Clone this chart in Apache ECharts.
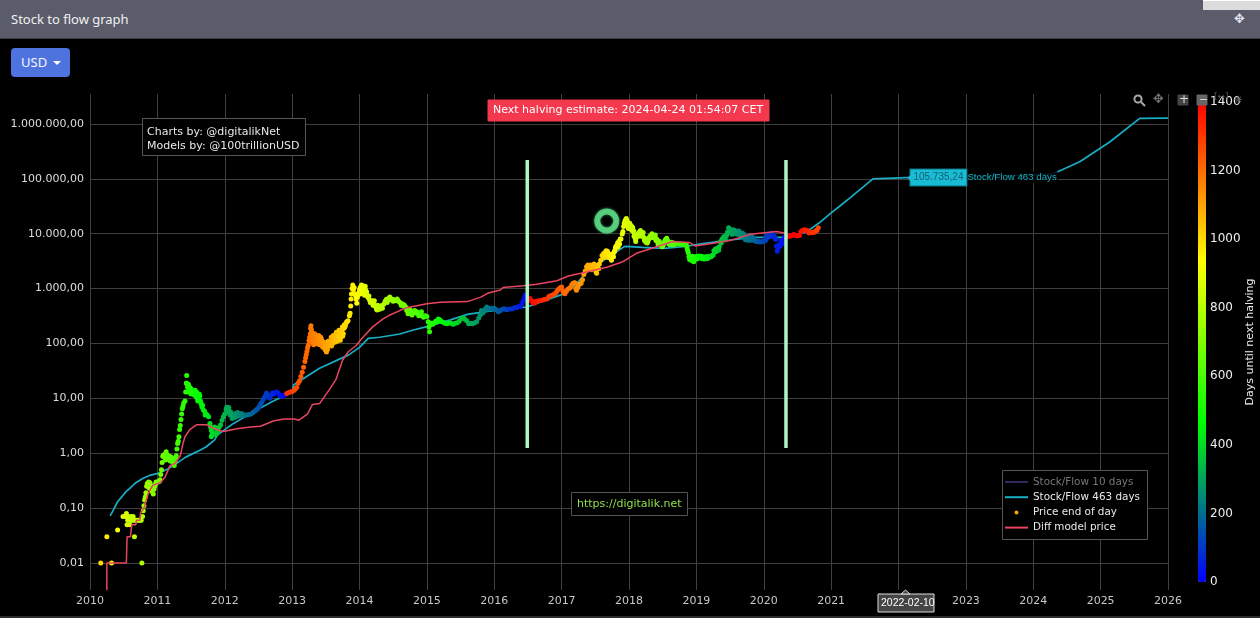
<!DOCTYPE html>
<html><head><meta charset="utf-8"><title>Stock to flow graph</title>
<script src="https://cdn.jsdelivr.net/npm/echarts@6/dist/echarts.min.js"></script>
<style>
html,body{margin:0;padding:0;background:#000;width:1260px;height:618px;overflow:hidden}
#chart{position:absolute;left:0;top:0;width:1260px;height:618px}
#head{position:absolute;left:0;top:0;width:1260px;height:38px;background:#5a5c69;border-bottom:1px solid #3d3e47;color:#f1f1f4;font:13px "Noto Sans",sans-serif;line-height:38px;text-indent:11px;z-index:5}
#move{position:absolute;left:1234px;top:0;text-indent:0;font:13px "DejaVu Sans";line-height:38px;color:#e4e6f5}
#patch{position:absolute;left:1203px;top:0;width:57px;height:10px;background:#dcdcdc;border-top:1px solid #fff;box-sizing:border-box;z-index:6}
#btn{position:absolute;left:11px;top:48px;width:59px;height:29px;background:#4e73df;border-radius:4px;color:#f4f6ff;font:13px "Noto Sans",sans-serif;line-height:29px;text-indent:10px;z-index:5}
#btn i{position:absolute;left:42px;top:13px;border-top:4px solid #fff;border-left:4px solid transparent;border-right:4px solid transparent}
#foot{position:absolute;left:0;top:616px;width:1260px;height:2px;background:#2e2e2e;z-index:5}
</style></head><body>
<div id="chart"></div>
<div id="head">Stock to flow graph<span id="move">✥</span></div><div id="patch"></div>
<div id="btn">USD<i></i></div><div id="foot"></div>
<script>
const yearTicks=[2010,2026];
const halvings=[2012.91,2016.52,2020.36,2024.31];
const halvingMarks=[2016.49,2020.33];
const markLow=1.24, markHigh=221000;
const circleNote=[2017.67,17070];
const hoverPoint=[2022.11,105735.24];

const stockFlow463=[[2010.3,.072],[2010.35,.094],[2010.41,.131],[2010.47,.16],[2010.53,.197],[2010.59,.23],[2010.68,.29],[2010.79,.35],[2010.9,.40],[2011.04,.44],[2011.16,.52],[2011.29,.66],[2011.42,.85],[2011.59,1.07],[2011.72,1.3],[2011.79,1.52],[2011.85,1.75],[2011.89,2.15],[2012.0,2.7],[2012.13,3.5],[2012.3,4.6],[2012.48,6.2],[2012.7,8.7],[2012.94,12],[2013.01,14],[2013.02,17.5],[2013.4,35],[2013.84,62],[2014.0,85],[2014.13,124],[2014.3,130],[2014.6,149],[2014.8,176],[2015.0,203],[2015.35,269],[2015.6,339],[2015.9,385],[2016.3,440],[2016.49,462],[2016.6,520],[2017.04,810],[2017.2,1150],[2017.38,2040],[2017.63,3310],[2017.93,5820],[2017.96,5900],[2018.2,5650],[2018.52,5430],[2018.8,5800],[2019.12,6700],[2019.5,7700],[2019.84,8600],[2020.3,8600],[2020.36,8900],[2020.63,10700],[2020.83,16000],[2021.0,24000],[2021.13,32000],[2021.28,45000],[2021.62,100000],[2022.11,105735.24],[2023.0,110000],[2023.8,116000],[2024.29,123000],[2024.69,205000],[2025.14,475000],[2025.58,1270000],[2026,1275000]];

const diffModel=[[2010.25,.0032],[2010.25,.01],[2010.54,.01],[2010.55,.03],[2010.6,.03],[2010.62,.05],[2010.68,.05],[2010.69,.06],[2010.74,.06],[2010.75,.08],[2010.81,.107],[2010.86,.18],[2010.93,.26],[2011.04,.29],[2011.11,.36],[2011.19,.6],[2011.26,.65],[2011.34,.9],[2011.38,1.5],[2011.41,2],[2011.48,2.7],[2011.58,3.3],[2011.73,3.3],[2011.88,2.7],[2011.98,2.5],[2012.18,2.8],[2012.38,3],[2012.53,3.1],[2012.73,3.9],[2012.88,4.2],[2013.03,4.2],[2013.1,4],[2013.23,5.2],[2013.3,7.7],[2013.41,8.1],[2013.55,14.3],[2013.65,22],[2013.75,50],[2013.83,70],[2013.95,92],[2014.05,130],[2014.2,203],[2014.35,280],[2014.45,330],[2014.7,450],[2015.0,530],[2015.2,565],[2015.6,580],[2015.8,700],[2015.9,820],[2016.09,945],[2016.13,1050],[2016.43,1130],[2016.63,1200],[2016.93,1390],[2017.1,1700],[2017.37,2000],[2017.67,2450],[2017.91,3090],[2018.11,4400],[2018.41,5800],[2018.65,7200],[2018.9,6900],[2018.98,6000],[2019.25,6700],[2019.5,7500],[2019.8,9800],[2020.19,11000],[2020.32,10200]];

const price2010=[[2010.16,.01],[2010.25,.03],[2010.32,.01],[2010.41,.04],[2010.49,.07],[2010.53,.07],[2010.54,.08],[2010.55,.05],[2010.56,.06],[2010.57,.07],[2010.58,.06],[2010.59,.05],[2010.6,.06],[2010.61,.07],[2010.62,.06],[2010.63,.065],[2010.64,.07],[2010.65,.06],[2010.66,.03],[2010.67,.06],[2010.69,.06],[2010.71,.06],[2010.73,.06],[2010.75,.06],[2010.76,.06],[2010.77,.01],[2010.78,.07],[2010.79,.09],[2010.8,.11],[2010.81,.14],[2010.82,.16],[2010.83,.19],[2010.84,.25],[2010.85,.28],[2010.86,.26],[2010.87,.3],[2010.88,.23],[2010.89,.29],[2010.9,.26],[2010.91,.22],[2010.92,.2],[2010.93,.24],[2010.94,.18],[2010.95,.22],[2010.96,.25],[2010.97,.27],[2010.98,.3]];
const price2011=[[2011.0,.3],[2011.01,.3],[2011.03,.31],[2011.04,.33],[2011.05,.41],[2011.06,.5],[2011.07,.68],[2011.08,.88],[2011.09,.93],[2011.1,.85],[2011.11,.95],[2011.12,.9],[2011.13,1.07],[2011.14,.95],[2011.16,.9],[2011.18,.88],[2011.2,.85],[2011.22,.82],[2011.24,.75],[2011.25,.6],[2011.26,.7],[2011.27,.8],[2011.28,.9],[2011.29,1.2],[2011.3,1.5],[2011.31,1.65],[2011.32,2],[2011.33,2.7],[2011.34,3.2],[2011.35,4.1],[2011.36,5.2],[2011.37,6.5],[2011.38,7.2],[2011.39,8.2],[2011.41,9],[2011.42,13],[2011.43,19],[2011.435,26],[2011.44,18],[2011.45,16],[2011.46,18],[2011.47,15],[2011.48,16],[2011.49,14],[2011.5,15],[2011.51,14],[2011.52,13.5],[2011.53,13],[2011.54,13.5],[2011.56,14],[2011.58,13],[2011.59,10],[2011.6,9],[2011.62,12],[2011.63,11],[2011.64,9],[2011.65,8],[2011.66,7],[2011.68,6.2],[2011.7,5.8],[2011.72,5.2],[2011.74,5],[2011.76,4.6],[2011.78,3.5],[2011.79,3],[2011.8,2.6],[2011.81,2.2],[2011.83,2.9],[2011.85,3],[2011.87,2.4],[2011.88,2.3],[2011.9,2.6],[2011.92,3],[2011.94,3.3],[2011.96,4],[2011.98,4.6]];
const price2012=[[2012.0,5.2],[2012.02,6.2],[2012.03,6.9],[2012.05,6.6],[2012.07,5.9],[2012.09,5.6],[2012.1,5.2],[2012.12,4.6],[2012.14,4.9],[2012.16,5.3],[2012.18,5.1],[2012.2,4.7],[2012.22,4.9],[2012.24,5],[2012.26,4.8],[2012.28,4.9],[2012.3,5],[2012.33,5],[2012.36,5.1],[2012.39,5.2],[2012.42,5.5],[2012.45,5.9],[2012.47,6.2],[2012.49,6.5],[2012.51,7],[2012.53,7.8],[2012.55,8.5],[2012.57,9.5],[2012.59,10.5],[2012.61,11.5],[2012.62,12.5],[2012.64,11.5],[2012.66,10.5],[2012.67,10],[2012.69,11.5],[2012.71,12.5],[2012.73,12.2],[2012.75,12.8],[2012.77,13],[2012.79,12.5],[2012.81,11.5],[2012.83,11],[2012.85,11.2],[2012.87,11],[2012.89,11.6],[2012.92,12.3],[2012.95,12.8],[2012.97,13]];
const price2013=[[2013.0,13.4],[2013.03,14],[2013.05,15],[2013.07,16],[2013.09,19],[2013.11,21],[2013.13,25],[2013.15,30],[2013.17,37],[2013.19,47],[2013.2,55],[2013.21,63],[2013.22,72],[2013.23,84],[2013.24,93],[2013.25,112],[2013.26,130],[2013.27,150],[2013.275,190],[2013.28,210],[2013.29,165],[2013.3,105],[2013.31,125],[2013.32,95],[2013.33,115],[2013.34,130],[2013.35,118],[2013.36,135],[2013.37,112],[2013.38,120],[2013.39,105],[2013.4,118],[2013.41,125],[2013.42,105],[2013.43,110],[2013.44,100],[2013.45,92],[2013.46,100],[2013.47,85],[2013.48,90],[2013.49,78],[2013.5,75],[2013.51,70],[2013.52,85],[2013.53,95],[2013.54,90],[2013.55,105],[2013.57,110],[2013.59,115],[2013.6,100],[2013.62,125],[2013.63,135],[2013.65,125],[2013.66,145],[2013.68,125],[2013.69,140],[2013.71,155],[2013.72,130],[2013.74,170],[2013.75,135],[2013.77,190],[2013.78,200],[2013.79,210],[2013.8,235],[2013.81,250],[2013.83,260],[2013.85,320],[2013.86,355],[2013.87,480],[2013.875,650],[2013.88,800],[2013.89,1000],[2013.9,1170],[2013.91,950],[2013.92,1050],[2013.93,800],[2013.94,750],[2013.95,640],[2013.96,540],[2013.97,700],[2013.98,780],[2013.99,850]];
const price2014=[[2014.0,950],[2014.01,1050],[2014.02,900],[2014.03,1170],[2014.04,950],[2014.05,1000],[2014.06,820],[2014.07,1050],[2014.08,900],[2014.09,950],[2014.1,800],[2014.11,765],[2014.13,680],[2014.15,620],[2014.17,580],[2014.19,600],[2014.21,540],[2014.23,480],[2014.25,430],[2014.26,407],[2014.28,450],[2014.3,420],[2014.32,470],[2014.34,440],[2014.36,520],[2014.38,590],[2014.4,640],[2014.42,610],[2014.43,660],[2014.46,630],[2014.49,640],[2014.52,620],[2014.55,600],[2014.58,590],[2014.6,560],[2014.62,500],[2014.65,480],[2014.68,470],[2014.7,400],[2014.72,350],[2014.74,380],[2014.76,350],[2014.78,330],[2014.8,370],[2014.83,360],[2014.85,380],[2014.87,350],[2014.9,360],[2014.93,320],[2014.96,315],[2014.98,320]];
const price2015=[[2015.0,310],[2015.02,250],[2015.03,200],[2015.04,164],[2015.05,220],[2015.07,235],[2015.09,225],[2015.11,240],[2015.13,255],[2015.15,250],[2015.17,280],[2015.19,270],[2015.21,255],[2015.24,245],[2015.27,235],[2015.3,230],[2015.33,240],[2015.36,235],[2015.39,225],[2015.42,235],[2015.45,240],[2015.48,255],[2015.51,285],[2015.54,295],[2015.56,280],[2015.59,260],[2015.62,230],[2015.65,235],[2015.68,230],[2015.71,240],[2015.74,250],[2015.77,290],[2015.79,330],[2015.81,400],[2015.83,360],[2015.85,390],[2015.87,430],[2015.89,460],[2015.91,420],[2015.93,440],[2015.96,430],[2015.98,440]];
const price2016=[[2016.0,440],[2016.03,410],[2016.06,380],[2016.09,400],[2016.12,420],[2016.15,430],[2016.18,410],[2016.21,420],[2016.24,425],[2016.27,430],[2016.3,450],[2016.33,450],[2016.36,470],[2016.39,470],[2016.41,530],[2016.43,600],[2016.45,680],[2016.46,760],[2016.48,650],[2016.5,640],[2016.53,660],[2016.55,610],[2016.57,560],[2016.59,580],[2016.6,540],[2016.63,590],[2016.66,600],[2016.69,610],[2016.72,620],[2016.75,640],[2016.78,650],[2016.81,720],[2016.83,730],[2016.85,750],[2016.88,780],[2016.91,820],[2016.93,900],[2016.95,960],[2016.97,1020],[2016.99,1050]];
const price2017=[[2017.0,1070],[2017.02,900],[2017.03,830],[2017.05,810],[2017.07,900],[2017.09,970],[2017.11,1000],[2017.13,1050],[2017.15,1180],[2017.17,1250],[2017.19,1280],[2017.2,1260],[2017.21,1000],[2017.22,930],[2017.24,1050],[2017.25,1150],[2017.27,1220],[2017.29,1250],[2017.31,1450],[2017.33,1800],[2017.35,2100],[2017.37,2500],[2017.39,2700],[2017.41,2500],[2017.43,2700],[2017.45,2500],[2017.47,2500],[2017.49,2350],[2017.51,2000],[2017.52,1900],[2017.54,2700],[2017.56,2800],[2017.58,3300],[2017.6,4000],[2017.62,4300],[2017.64,4500],[2017.66,4900],[2017.67,4400],[2017.69,3700],[2017.71,3900],[2017.72,3600],[2017.74,3300],[2017.76,4300],[2017.78,4600],[2017.8,5700],[2017.81,6000],[2017.83,6800],[2017.85,7300],[2017.87,8000],[2017.88,8000],[2017.9,9900],[2017.91,11000],[2017.92,13500],[2017.93,15500],[2017.94,17000],[2017.95,18000],[2017.96,19000],[2017.97,15000],[2017.98,14000]];
const price2018=[[2018.0,15000],[2018.01,15500],[2018.02,14000],[2018.03,14200],[2018.04,13500],[2018.05,11500],[2018.06,11000],[2018.07,11300],[2018.08,9500],[2018.09,8500],[2018.1,7200],[2018.11,8500],[2018.13,10000],[2018.15,10500],[2018.17,11500],[2018.18,10500],[2018.2,9500],[2018.22,8500],[2018.24,8000],[2018.25,7000],[2018.27,6800],[2018.29,8000],[2018.31,9000],[2018.33,9300],[2018.34,10000],[2018.36,8800],[2018.38,8400],[2018.4,7500],[2018.42,7500],[2018.44,6700],[2018.46,6300],[2018.49,5800],[2018.51,6400],[2018.53,7300],[2018.55,8000],[2018.56,8300],[2018.58,7200],[2018.6,6400],[2018.62,6400],[2018.64,6300],[2018.66,6800],[2018.69,6600],[2018.72,6500],[2018.75,6500],[2018.78,6450],[2018.81,6400],[2018.85,6400],[2018.86,5600],[2018.87,5000],[2018.88,4500],[2018.89,3800],[2018.91,3900],[2018.93,3500],[2018.95,3200],[2018.96,3100],[2018.98,3800]];
const price2019=[[2019.0,3800],[2019.02,3900],[2019.05,3700],[2019.08,3500],[2019.11,3450],[2019.14,3800],[2019.17,3850],[2019.2,3900],[2019.23,4000],[2019.25,4100],[2019.26,4900],[2019.28,5200],[2019.3,5300],[2019.32,5500],[2019.34,5800],[2019.36,7200],[2019.38,8000],[2019.4,7900],[2019.42,8500],[2019.44,9000],[2019.46,10500],[2019.48,12800],[2019.49,11500],[2019.5,11000],[2019.52,10200],[2019.54,11000],[2019.56,10000],[2019.58,11300],[2019.6,10600],[2019.62,10500],[2019.64,10300],[2019.66,10000],[2019.68,10300],[2019.7,9900],[2019.72,8300],[2019.74,8200],[2019.76,8300],[2019.78,8200],[2019.8,9200],[2019.82,9100],[2019.84,8500],[2019.86,8000],[2019.88,7300],[2019.9,7200],[2019.92,7300],[2019.95,7100],[2019.98,7200]];
const price2020=[[2020.0,7300],[2020.02,8200],[2020.04,8700],[2020.06,9300],[2020.08,9800],[2020.1,9200],[2020.12,9900],[2020.14,9700],[2020.16,8700],[2020.18,7900],[2020.19,6000],[2020.2,4800],[2020.21,5400],[2020.23,6400],[2020.25,6700],[2020.27,7000],[2020.29,7200],[2020.31,8800],[2020.33,9000],[2020.35,9000],[2020.37,8900],[2020.39,9100],[2020.41,9200],[2020.43,9500],[2020.45,9700],[2020.47,9300],[2020.49,9200],[2020.51,9200],[2020.53,9300],[2020.55,10900],[2020.57,11500],[2020.59,11700],[2020.61,11800],[2020.63,11500],[2020.65,11500],[2020.67,10300],[2020.69,10600],[2020.71,10500],[2020.73,10700],[2020.75,10600],[2020.77,11300],[2020.79,11500],[2020.81,12900]];
const priceMore2011=[[2011.12,.75],[2011.15,.78],[2011.19,.72],[2011.23,.68],[2011.46,13],[2011.5,12],[2011.55,11.5],[2011.57,11],[2011.61,10],[2011.67,7.5],[2011.71,5],[2011.8,2],[2011.82,2.3],[2011.86,2.2],[2011.89,2.8],[2012.04,5.6],[2012.06,6.8],[2012.08,5],[2012.11,4.3],[2012.15,4.5],[2012.19,5.5],[2012.25,5.3]];
const priceMore2013=[[2013.285,180],[2013.295,125],[2013.305,150],[2013.315,100],[2013.325,140],[2013.335,150],[2013.345,105],[2013.355,140],[2013.365,100],[2013.375,135],[2013.385,125],[2013.395,140],[2013.405,95],[2013.415,110],[2013.425,130],[2013.435,120],[2013.445,110],[2013.455,85],[2013.475,105],[2013.495,85],[2013.515,90],[2013.525,78],[2013.535,110],[2013.545,105],[2013.56,95],[2013.58,130],[2013.585,90],[2013.61,140],[2013.635,105],[2013.655,160],[2013.67,110],[2013.695,175],[2013.715,115],[2013.73,150],[2013.745,200],[2013.76,150],[2013.775,220]];
const priceMore2014=[[2014.015,800],[2014.025,1000],[2014.045,820],[2014.055,1120],[2014.075,760],[2014.085,1100],[2014.105,880],[2014.12,720],[2014.14,730],[2014.16,560],[2014.2,500],[2014.22,600],[2014.27,500],[2014.33,490],[2014.39,580],[2014.41,560],[2014.45,700],[2014.5,590],[2014.56,650],[2014.63,530],[2014.66,510],[2014.71,430],[2014.75,410],[2014.82,400],[2014.88,320],[2014.92,380],[2014.95,300]];
const priceMore2017=[[2017.39,2200],[2017.44,2200],[2017.48,2800],[2017.55,2300],[2017.63,3700],[2017.65,4200],[2017.68,4800],[2017.7,4300],[2017.73,4200],[2017.77,3800],[2017.79,5000],[2017.82,5600],[2017.84,5800],[2017.86,6500],[2017.955,16000],[2017.975,17000],[2017.99,12500],[2018.015,13000],[2018.035,12000],[2018.055,13000],[2018.075,9000],[2018.095,8000],[2018.12,9000],[2018.14,9000],[2018.16,11000],[2018.19,9000],[2018.21,10500],[2018.23,7500],[2018.26,8000],[2018.28,7200],[2018.3,8200],[2018.32,8500],[2018.35,8500],[2018.39,9500],[2018.41,8000],[2018.43,6500],[2018.45,7300],[2018.48,6300],[2018.5,6000],[2018.52,6800],[2018.54,7800],[2018.57,7500],[2018.59,6600],[2018.63,7000],[2018.67,6300]];
const priceMore2019=[[2018.9,3400],[2018.92,3300],[2018.94,3900],[2018.97,3500],[2019.01,3450],[2019.04,3950],[2019.07,3900],[2019.1,3800],[2019.13,3500],[2019.16,3500],[2019.19,3700],[2019.22,3800],[2019.29,4700],[2019.33,5000],[2019.37,6800],[2019.41,8900],[2019.43,7800],[2019.45,9500],[2019.47,11000],[2019.51,12000],[2019.53,9800],[2019.55,11800],[2019.57,11000],[2019.59,10000],[2019.61,9800],[2019.63,11200],[2019.65,9500],[2019.67,9800],[2019.69,8800],[2019.73,7800],[2019.75,8800],[2019.77,7600],[2019.79,7600],[2019.81,8800],[2019.83,7600],[2020.03,7600],[2020.05,9800],[2020.07,8600],[2020.11,10200],[2020.13,8900],[2020.15,9200],[2020.17,8000],[2020.22,6000],[2020.24,5900],[2020.26,7500],[2020.28,6600],[2020.3,8000]];

const pricePoints=[].concat(price2010,price2011,price2012,price2013,price2014,price2015,price2016,price2017,price2018,price2019,price2020,priceMore2011,priceMore2013,priceMore2014,priceMore2017,priceMore2019);
const daysUntil=y=>{const h=halvings.find(v=>v>y);return Math.round((h-y)*365.25)};
const priceData=pricePoints.map(p=>[p[0],p[1],daysUntil(p[0])]);
const euro=v=>v.toLocaleString('de-DE',{minimumFractionDigits:2,maximumFractionDigits:2});
const F='"DejaVu Sans"';
const lineIcon='path://M0 0h0M0 5h23v2H0zM23 12h0';
const dotIcon='path://M0 0h0M11.5 4a2 2 0 1 0 .01 0zM23 12h0';
function box(x,y,w,h,fill,stroke,z){return{type:'rect',silent:true,z:z||10,shape:{x:x,y:y,width:w,height:h},style:{fill:fill,stroke:stroke,lineWidth:1}}}
function txt(x,y,t,color,size,font,z){return{type:'text',silent:true,z:z||11,x:x,y:y,style:{text:t,fill:color,font:(size||11)+'px '+(font||F),textVerticalAlign:'middle'}}}
const chart=echarts.init(document.getElementById('chart'));
chart.setOption({
 animation:false,backgroundColor:'#000',
 grid:[{left:90,right:92,top:94,bottom:28,outerBoundsMode:'none'},{left:1198,width:8,top:102,height:480,show:false,outerBoundsMode:'none'}],
 xAxis:[{type:'value',min:yearTicks[0],max:yearTicks[1],interval:1,
   axisLine:{show:false},axisTick:{show:false},
   axisLabel:{color:'#c8c8c8',fontFamily:F,fontSize:11,margin:6,formatter:v=>String(v),showMinLabel:true,showMaxLabel:true},
   splitLine:{show:true,lineStyle:{color:'#3f3f3f',width:1}}},
  {gridIndex:1,type:'value',show:false,min:0,max:1}],
 yAxis:[{type:'log',logBase:10,min:0.00322,max:3520000,
   name:'USD',nameLocation:'middle',nameRotate:90,nameGap:52,nameTextStyle:{color:'#eee',fontFamily:F,fontSize:11},
   axisLine:{show:false},axisTick:{show:false},
   axisLabel:{color:'#ddd',fontFamily:F,fontSize:11,margin:6,showMinLabel:false,showMaxLabel:false,formatter:v=>euro(v)},
   splitLine:{show:true,showMinLine:false,showMaxLine:false,lineStyle:{color:'#3f3f3f',width:1}}},
  {gridIndex:1,type:'value',min:0,max:1400,interval:200,position:'right',
   name:'Days until next halving',nameLocation:'middle',nameRotate:90,nameGap:25,nameTextStyle:{color:'#eee',fontFamily:F,fontSize:11},
   axisLine:{show:false},axisTick:{show:false},splitLine:{show:false},
   axisLabel:{color:'#eee',fontFamily:F,fontSize:12,margin:4,formatter:v=>String(v)}}],
 visualMap:[{type:'continuous',seriesIndex:2,dimension:2,min:0,max:1400,calculable:false,left:1198,top:102,itemWidth:8,itemHeight:480,padding:0,text:null,
   inRange:{color:['#0000ff','#00ff00','#ffff00','#ff0000']}}],
 legend:{left:1005,top:476,orient:'vertical',padding:0,itemGap:3.2,itemWidth:23,itemHeight:12,z:12,
   data:[{name:'Stock/Flow 10 days',icon:lineIcon,textStyle:{color:'#777'}},{name:'Stock/Flow 463 days',icon:lineIcon},{name:'Price end of day',icon:dotIcon},{name:'Diff model price',icon:lineIcon}],
   textStyle:{color:'#e8e8e8',fontFamily:F,fontSize:10.4},selectedMode:false},
 series:[
  {name:'Stock/Flow 10 days',type:'line',data:[],symbol:'none',itemStyle:{color:'#2e2a5c'},lineStyle:{color:'#2e2a5c',width:2}},
  {name:'Stock/Flow 463 days',type:'line',data:stockFlow463,symbol:'none',z:2,itemStyle:{color:'#18aec4'},lineStyle:{color:'#18aec4',width:1.7},
   markPoint:{symbol:'circle',symbolSize:1,itemStyle:{color:'transparent'},silent:true,z:9,data:[
    {coord:hoverPoint,label:{show:true,position:'right',distance:3,offset:[57,0],formatter:'Stock/Flow 463 days',color:'#18aec4',backgroundColor:'rgba(0,0,0,.85)',fontFamily:'"Liberation Sans"',fontSize:9.7,padding:[1,1]}},
    {coord:hoverPoint,label:{show:true,position:'right',distance:4,offset:[0,0],formatter:euro(hoverPoint[1]),color:'#17606f',backgroundColor:'#18bcd4',fontFamily:'"Liberation Sans"',fontSize:10,padding:[3,3,3,3],borderColor:'#0f6f80',borderWidth:1}}]}},
  {name:'Price end of day',type:'scatter',data:priceData,symbol:'circle',symbolSize:5,z:3,itemStyle:{color:'#ffa500',opacity:1}},
  {name:'Diff model price',type:'line',data:diffModel,symbol:'none',z:4,itemStyle:{color:'#ea4560'},lineStyle:{color:'#ea4560',width:1.5}},
  {name:'halving mark A',type:'line',data:[[halvingMarks[0],markLow],[halvingMarks[0],markHigh]],symbol:'none',z:5,lineStyle:{color:'#b0f6c2',width:3.5}},
  {name:'halving mark B',type:'line',data:[[halvingMarks[1],markLow],[halvingMarks[1],markHigh]],symbol:'none',z:5,lineStyle:{color:'#b0f6c2',width:3.5}},
  {name:'note circle',type:'scatter',data:[circleNote],symbol:'circle',symbolSize:19,z:6,itemStyle:{color:'rgba(0,0,0,0)',borderColor:'#62e28a',borderWidth:6,shadowBlur:3,shadowColor:'#3fae68'}}
 ],
 graphic:[
  box(142.5,118.5,163,37,'#000','#555'),
  txt(147,132,'Charts by: @digitalikNet','#e8e8e8'),
  txt(147,146,'Models by: @100trillionUSD','#e8e8e8'),
  box(488,100,281,21,'#f4394e','#f4394e'),
  txt(493,110.5,'Next halving estimate: 2024-04-24 01:54:07 CET','#fff',11),
  box(571.5,492.5,116,23,'#000','#555'),
  txt(577,504,'https://digitalik.net','#90e04a'),
  box(1002.5,470.5,145,69,'#000','#555',9),
  {type:'polygon',silent:true,z:11,shape:{points:[[901,594],[905.5,590],[910,594]]},style:{fill:'#444',stroke:'#ddd'}},
  box(878,594,56,18,'#444','#ddd'),
  txt(881,603.5,'2022-02-10','#fff',10.5,'"Liberation Sans"'),
  {type:'polygon',silent:true,z:11,shape:{points:[[907.5,178],[911,174.5],[911,181.5]]},style:{fill:'#18bcd4'}},
  {type:'circle',silent:true,z:11,shape:{cx:1138,cy:99,r:3.6},style:{fill:'none',stroke:'#aaa',lineWidth:2}},
  {type:'line',silent:true,z:11,shape:{x1:1141,y1:102,x2:1145,y2:106},style:{stroke:'#aaa',lineWidth:2}},
  txt(1153,100,'✥','#777',13),
  box(1178,95,10,10,'#444','#444'),
  txt(1179,100,'+','#ddd',12,F,12),
  box(1197,95,10,10,'#666','#666',12),
  txt(1199,100,'−','#ddd',11,F,13),
  txt(1214,97,'[↔]','#555',9),
  txt(1234,100,'❋','#555',10)
 ]
});
</script></body></html>
